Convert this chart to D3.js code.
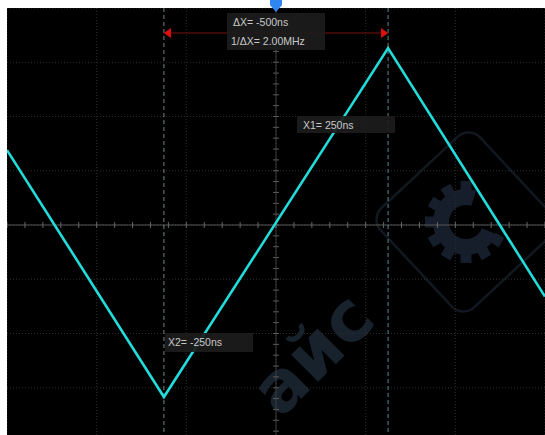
<!DOCTYPE html>
<html><head><meta charset="utf-8">
<script src="https://cdn.jsdelivr.net/npm/d3@7"></script>
<style>html,body{margin:0;padding:0;background:#fff;}svg{display:block;}</style>
</head><body>
<script>
// ---- data ----
const timeNs   = [-600, -250, 250, 600];      // trace vertices (ns)
const voltsDiv = [1.38, -3.17, 3.26, -1.32];  // trace vertices (divisions)
const cursorX1 = 250, cursorX2 = -250;
const xTicks = [-600, -400, -200, 0, 200, 400, 600];
const yTicks = [-4, -3, -2, -1, 0, 1, 2, 3, 4];
const labelDelta = "ΔX= -500ns";
const labelFreq  = "1/ΔX= 2.00MHz";
const labelX1 = "X1= 250ns";
const labelX2 = "X2= -250ns";

const W = 545, H = 435, L = 7, T = 8;
const svg = d3.select("body").append("svg").attr("width", W).attr("height", H);
svg.append("rect").attr("width", W).attr("height", H).attr("fill", "#fff");
svg.append("rect").attr("x", L).attr("y", T).attr("width", W - L).attr("height", H - T).attr("fill", "#000");

const x = d3.scaleLinear().domain([-600, 600]).range([L, W]);
const y = d3.scaleLinear().domain([-4, 4]).range([442, T]);

const g = svg.append("g").attr("clip-path", "url(#clip)");
svg.append("clipPath").attr("id", "clip").append("rect").attr("x", L).attr("y", T).attr("width", W - L).attr("height", H - T);

// ---- watermark ----
const wm = g.append("g");
const cx = 466, cy = 222;
wm.append("rect").attr("x", -68).attr("y", -68).attr("width", 136).attr("height", 136).attr("rx", 16)
  .attr("fill", "none").attr("stroke", "#12181f").attr("stroke-width", 2.5)
  .attr("transform", `translate(${cx},${cy}) rotate(47)`);
const gear = wm.append("g").attr("transform", `translate(${cx},${cy})`).attr("fill", "#161e2b");
gear.append("path").attr("d", d3.arc().innerRadius(17).outerRadius(33).startAngle(Math.PI * 0.62).endAngle(Math.PI * 2.1)());
d3.range(0, 360, 30).filter(a => a < 20 || a > 110).forEach(a => {
  gear.append("rect").attr("x", -5.5).attr("y", -41).attr("width", 11).attr("height", 10).attr("transform", `rotate(${a})`);
});
wm.append("text").attr("transform", "translate(378,322) rotate(-45)").attr("text-anchor", "end")
  .attr("font-family", "DejaVu Sans").attr("font-weight", "bold").attr("font-size", 70)
  .attr("fill", "#18222c").text("айс");

// ---- grid ----
xTicks.forEach(t => {
  g.append("line").attr("x1", x(t)).attr("x2", x(t)).attr("y1", T).attr("y2", H)
    .attr("stroke", "#2c2c2c").attr("stroke-width", 1).attr("stroke-dasharray", "1,2");
});
yTicks.forEach(v => {
  g.append("line").attr("x1", L).attr("x2", W).attr("y1", y(v)).attr("y2", y(v))
    .attr("stroke", "#2c2c2c").attr("stroke-width", 1).attr("stroke-dasharray", "1,2");
});
// center axes
g.append("line").attr("x1", L).attr("x2", W).attr("y1", y(0)).attr("y2", y(0)).attr("stroke", "#555");
g.append("line").attr("x1", x(0)).attr("x2", x(0)).attr("y1", T).attr("y2", H).attr("stroke", "#3a3a3a");
d3.range(-600, 601, 40).forEach(t => {
  g.append("line").attr("x1", x(t)).attr("x2", x(t)).attr("y1", y(0) - 3).attr("y2", y(0) + 3).attr("stroke", "#666");
});
d3.range(-4, 4.01, 0.2).forEach(v => {
  g.append("line").attr("x1", x(0) - 3).attr("x2", x(0) + 3).attr("y1", y(v)).attr("y2", y(v)).attr("stroke", "#5a5a5a");
});

// ---- cursors ----
[cursorX2, cursorX1].forEach((t, i) => {
  g.append("line").attr("x1", x(t)).attr("x2", x(t)).attr("y1", T).attr("y2", H)
    .attr("stroke", i ? "#7fc4c4" : "#a8b8b8").attr("stroke-width", 1).attr("stroke-dasharray", "4,3").attr("opacity", 0.7);
});
// measurement line with arrows
const my = 33;
g.append("line").attr("x1", x(cursorX2) + 6).attr("x2", x(cursorX1) - 6).attr("y1", my).attr("y2", my)
  .attr("stroke", "#7a1010").attr("stroke-width", 1);
g.append("path").attr("d", `M${x(cursorX2)},${my} l7,-5 l0,10 z`).attr("fill", "#e01010");
g.append("path").attr("d", `M${x(cursorX1)},${my} l-7,-5 l0,10 z`).attr("fill", "#e01010");

// ---- trace ----
const pts = timeNs.map((t, i) => [t, voltsDiv[i]]);
g.append("path").datum(pts).attr("d", d3.line().x(d => x(d[0])).y(d => y(d[1])))
  .attr("fill", "none").attr("stroke", "#22dcdc").attr("stroke-width", 2.6).attr("stroke-linejoin", "miter");

// ---- labels ----
const font = "Liberation Sans, Arial, sans-serif";
function label(bx, by, bw, bh, lines) {
  g.append("rect").attr("x", bx).attr("y", by).attr("width", bw).attr("height", bh).attr("fill", "#1c1c1c").attr("opacity", 0.92);
  lines.forEach(l => g.append("text").attr("x", l[0]).attr("y", l[1]).attr("font-family", font).attr("font-size", 10.5)
    .attr("fill", "#c8c8c8").text(l[2]));
}
label(227, 13, 98, 37, [[233, 26, labelDelta], [231, 45, labelFreq]]);
label(297, 116, 98, 17, [[303, 129, labelX1]]);
label(165, 333, 88, 19, [[168, 346, labelX2]]);

// ---- trigger position marker ----
svg.append("path").attr("d", `M${x(0) - 6},0 h12 v5 l-6,7 l-6,-7 z`).attr("fill", "#2f86f0");
</script>
</body></html>
